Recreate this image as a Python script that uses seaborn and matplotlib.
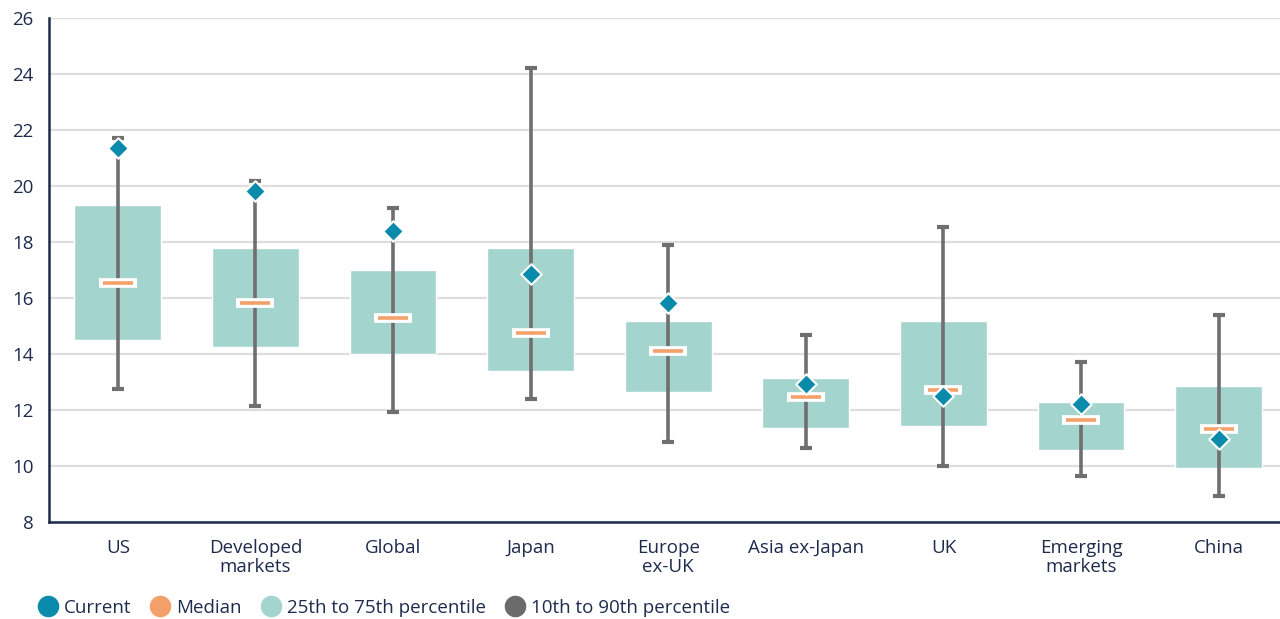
import matplotlib
matplotlib.use("Agg")
import matplotlib.pyplot as plt
import seaborn as sns
import pandas as pd
import numpy as np
from matplotlib.lines import Line2D

categories = ["US", "Developed\nmarkets", "Global", "Japan", "Europe\nex-UK",
              "Asia ex-Japan", "UK", "Emerging\nmarkets", "China"]
p10 = [12.75, 12.14, 11.93, 12.39, 10.86, 10.64, 10.0, 9.64, 8.93]
p25 = [14.5, 14.25, 14.0, 13.39, 12.64, 11.36, 11.43, 10.57, 9.93]
median = [16.54, 15.82, 15.29, 14.75, 14.11, 12.46, 12.71, 11.64, 11.32]
p75 = [19.32, 17.79, 17.0, 17.79, 15.18, 13.14, 15.18, 12.29, 12.86]
p90 = [21.71, 20.18, 19.21, 24.21, 17.89, 14.68, 18.54, 13.71, 15.39]
current = [21.36, 19.82, 18.39, 16.86, 15.82, 12.93, 12.5, 12.21, 10.96]

TEAL = "#0b8bab"
ORANGE = "#f4a06b"
BOX = "#a4d4ce"
GRAY = "#6f6f6f"
NAVY = "#1e2b4d"

sns.set_theme(style="white")
plt.rcParams["font.family"] = ["Open Sans", "DejaVu Sans"]

df = pd.DataFrame({"cat": categories, "p10": p10, "p25": p25, "median": median,
                   "p75": p75, "p90": p90, "current": current})
x = np.arange(len(categories))

fig = plt.figure(figsize=(12.8, 6.19), dpi=100)
ax = fig.add_axes([49 / 1280, 1 - 522 / 619, 1 - 49 / 1280, (522 - 18) / 619])

# boxes (25th-75th)
ax.bar(x, df["p75"] - df["p25"], bottom=df["p25"], width=0.632, color=BOX, zorder=2)
# whiskers (10th-90th)
ax.vlines(x, df["p10"], df["p90"], color=GRAY, lw=2.6, zorder=3)
ax.plot(x, df["p10"], ls="none", marker="_", ms=8, mew=3, color=GRAY, zorder=3)
ax.plot(x, df["p90"], ls="none", marker="_", ms=8, mew=3, color=GRAY, zorder=3)
# median
ax.plot(x, df["median"], ls="none", marker="_", ms=28, mew=7, color="white", zorder=4)
ax.plot(x, df["median"], ls="none", marker="_", ms=22, mew=2.6, color=ORANGE, zorder=5)
# current
sns.scatterplot(data=df, x=x, y="current", marker="D", s=110, color=TEAL,
                edgecolor="white", linewidth=1.5, zorder=6, ax=ax, legend=False)

FS = 13.5
ax.set_xlim(-0.5, -0.5 + 1231 / 137.6)
ax.set_ylim(8, 26)
ax.set_yticks(np.arange(8, 27, 2))
ax.set_xticks(x)
ax.set_xticklabels(categories, fontsize=FS, color=NAVY, linespacing=1.1)
ax.tick_params(axis="y", labelsize=FS, labelcolor=NAVY, length=0, pad=11)
ax.tick_params(axis="x", length=6, width=1.8, color=NAVY, pad=6, direction="out")
ax.yaxis.grid(True, color="#dedede", lw=1.6)
ax.set_axisbelow(True)
ax.set_xlabel("")
ax.set_ylabel("")
for s in ["top", "right"]:
    ax.spines[s].set_visible(False)
for s in ["left", "bottom"]:
    ax.spines[s].set_color(NAVY)
    ax.spines[s].set_linewidth(1.8)

handles = [Line2D([], [], ls="none", marker="o", ms=14.5, color=c, label=l)
           for c, l in [(TEAL, "Current"), (ORANGE, "Median"), (BOX, "25th to 75th percentile"),
                        ("#6b6b6b", "10th to 90th percentile")]]
fig.legend(handles=handles, loc="center left", bbox_to_anchor=(0.016, 1 - 608 / 619),
           ncol=4, frameon=False, fontsize=FS, handletextpad=0.3, columnspacing=1.0,
           labelcolor=NAVY, handlelength=1.1)

fig.savefig("out.png", dpi=100)
